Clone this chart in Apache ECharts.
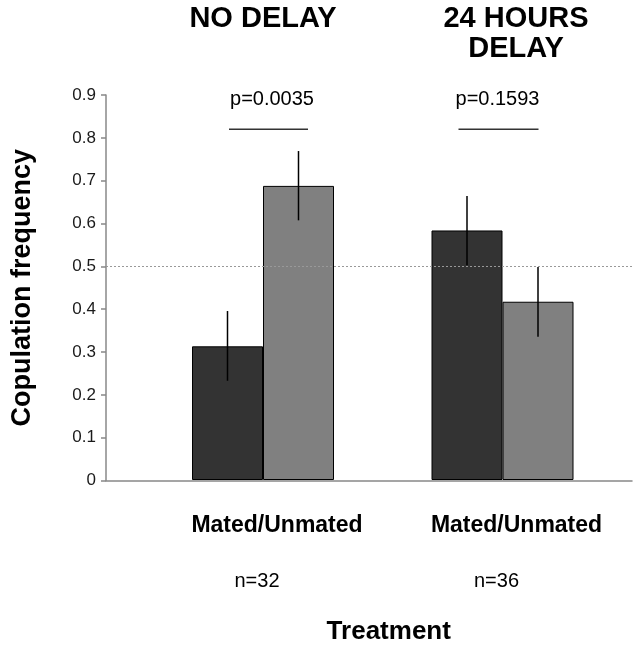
<!DOCTYPE html>
<html><head><meta charset="utf-8">
<script src="https://cdn.jsdelivr.net/npm/echarts@6/dist/echarts.min.js"></script>
<style>html,body{margin:0;padding:0;background:#fff}#c{width:640px;height:650px}</style>
</head><body><div id="c"></div>
<script>
// ---- data ----
const groups = ['NO DELAY', '24 HOURS\nDELAY'];
const subLabels = ['Mated/Unmated', 'Mated/Unmated'];
const groupSizes = ['n=32', 'n=36'];
const matedValues = [0.3125, 0.5833];
const unmatedValues = [0.6875, 0.4167];
const matedLow = [0.232, 0.502];
const matedHigh = [0.395, 0.664];
const unmatedLow = [0.607, 0.335];
const unmatedHigh = [0.769, 0.498];
const pValues = ['p=0.0035', 'p=0.1593'];
const pLineLevel = [0.82, 0.82];
const pTextLevel = [0.89, 0.89];
const chanceLevel = 0.5;
const yMin = 0, yMax = 0.9, yStep = 0.1;

// ---- layout constants (pixels) ----
const BAR_W = 71;
const P_LINE_OFF = [[-34, 45], [-44, 36]];
const P_TEXT_OFF = [9, -5];
const FONT = '"Liberation Sans", Arial, Helvetica, sans-serif';

const chart = echarts.init(document.getElementById('c'), null, {renderer: 'canvas'});

function errRender(offset) {
  return function (params, api) {
    const i = api.value(0);
    const lo = api.coord([i, api.value(1)]);
    const hi = api.coord([i, api.value(2)]);
    const x = lo[0] + offset;
    return {type: 'line', shape: {x1: x, y1: lo[1], x2: x, y2: hi[1]},
      style: {stroke: '#000', lineWidth: 1.5}};
  };
}

const option = {
  backgroundColor: '#fff',
  animation: false,
  textStyle: {fontFamily: FONT},
  grid: [
    {left: 106, right: 8, top: 95, bottom: 169.5},
    {left: 143.25, right: 17.75, top: 95, bottom: 169.5}
  ],
  xAxis: [
    {gridIndex: 0, type: 'value', min: 0, max: 1,
      axisLine: {show: true, lineStyle: {color: '#888', width: 1.5}},
      axisTick: {show: false}, axisLabel: {show: false}, splitLine: {show: false}},
    {gridIndex: 1, type: 'category', data: groups, position: 'bottom',
      axisLine: {show: false}, axisTick: {show: false},
      axisLabel: {interval: 0, margin: 31,
        formatter: (v, i) => '{a|' + subLabels[i] + '}\n{b|' + groupSizes[i] + '}',
        rich: {
          a: {fontFamily: FONT, fontSize: 23, fontWeight: 'bold', color: '#000', lineHeight: 30, padding: [0, 0, 0, 28]},
          b: {fontFamily: FONT, fontSize: 20, color: '#000', lineHeight: 80, padding: [0, 12, 0, 0]}
        }},
      name: 'Treatment', nameLocation: 'middle', nameGap: 139,
      nameTextStyle: {fontFamily: FONT, fontSize: 26, fontWeight: 'bold', color: '#000', lineHeight: 26, padding: [0, 0, 0, 12]}},
    {gridIndex: 1, type: 'category', data: groups, position: 'top',
      axisLine: {show: false}, axisTick: {show: false},
      axisLabel: {interval: 0, margin: 91, verticalAlign: 'top',
        formatter: (v, i) => v.split('\n').map(s => '{h' + i + '|' + s + '}').join('\n'),
        rich: {
          h0: {fontFamily: FONT, fontSize: 29, fontWeight: 'bold', color: '#000', lineHeight: 30},
          h1: {fontFamily: FONT, fontSize: 29, fontWeight: 'bold', color: '#000', lineHeight: 30, padding: [0, 0, 0, 27]}
        }}}
  ],
  yAxis: [
    {gridIndex: 0, type: 'value', min: yMin, max: yMax, interval: yStep,
      axisLine: {show: true, lineStyle: {color: '#888', width: 1.5}},
      axisTick: {show: true, inside: false, length: 5, lineStyle: {color: '#888', width: 1.5}},
      axisLabel: {fontFamily: FONT, fontSize: 17, color: '#1a1a1a', margin: 10},
      splitLine: {show: false},
      name: 'Copulation frequency', nameLocation: 'middle', nameGap: 70, nameRotate: 90,
      nameTextStyle: {fontFamily: FONT, fontSize: 27, fontWeight: 'bold', color: '#000'}},
    {gridIndex: 1, type: 'value', min: yMin, max: yMax, interval: yStep, show: false}
  ],
  series: [
    {type: 'line', xAxisIndex: 0, yAxisIndex: 0, data: [], silent: true,
      markLine: {silent: true, symbol: 'none', label: {show: false},
        lineStyle: {color: '#999', type: [2, 2], width: 1},
        data: [{yAxis: chanceLevel}]}},
    {type: 'bar', xAxisIndex: 1, yAxisIndex: 1, data: matedValues, barWidth: BAR_W, barGap: '0%',
      itemStyle: {color: '#333333', borderColor: '#000', borderWidth: 1}, z: 2},
    {type: 'bar', xAxisIndex: 1, yAxisIndex: 1, data: unmatedValues, barWidth: BAR_W, barGap: '0%',
      itemStyle: {color: '#808080', borderColor: '#000', borderWidth: 1}, z: 2},
    {type: 'custom', xAxisIndex: 1, yAxisIndex: 1, z: 5,
      data: matedLow.map((l, i) => [i, l, matedHigh[i]]),
      encode: {x: 0, y: [1, 2]}, renderItem: errRender(-BAR_W / 2)},
    {type: 'custom', xAxisIndex: 1, yAxisIndex: 1, z: 5,
      data: unmatedLow.map((l, i) => [i, l, unmatedHigh[i]]),
      encode: {x: 0, y: [1, 2]}, renderItem: errRender(BAR_W / 2)},
    {type: 'custom', xAxisIndex: 1, yAxisIndex: 1, z: 5,
      data: pLineLevel.map((v, i) => [i, v, pTextLevel[i]]),
      encode: {x: 0, y: [1, 2]},
      renderItem: function (params, api) {
        const i = api.value(0);
        const l = api.coord([i, api.value(1)]);
        const t = api.coord([i, api.value(2)]);
        return {type: 'group', children: [
          {type: 'line', shape: {x1: l[0] + P_LINE_OFF[i][0], y1: l[1], x2: l[0] + P_LINE_OFF[i][1], y2: l[1]},
            style: {stroke: '#333', lineWidth: 1.5}},
          {type: 'text', x: t[0] + P_TEXT_OFF[i], y: t[1],
            style: {text: pValues[i], fontFamily: FONT, fontSize: 20, fill: '#000', align: 'center', verticalAlign: 'middle'}}
        ]};
      }}
  ]
};
chart.setOption(option);
</script>
</body></html>
